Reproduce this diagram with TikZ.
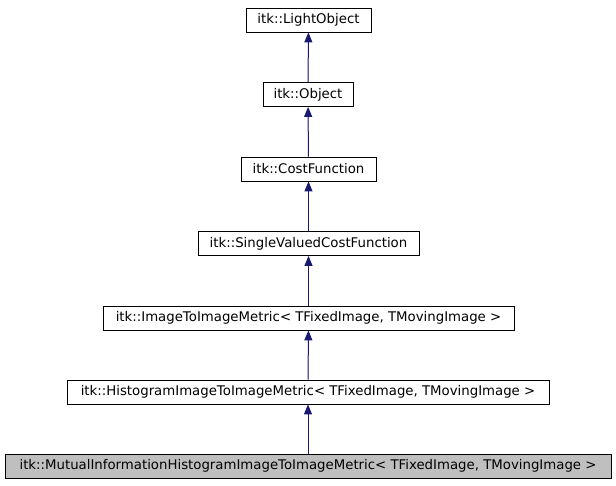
\documentclass[tikz,border=0pt]{standalone}
\usepackage{fontspec}
\setmainfont{DejaVu Sans}
\usetikzlibrary{arrows.meta}
\definecolor{edgeblue}{HTML}{191970}
\begin{document}
\begin{tikzpicture}[x=1pt,y=-1pt,>={Triangle[length=10pt,width=8pt]},
 cls/.style={draw,line width=0.8pt,minimum height=24pt,inner sep=0pt,font=\fontsize{13.3}{15}\selectfont},
 cur/.style={cls,fill=black!25},
 inh/.style={->,draw=edgeblue,fill=edgeblue,line width=1pt}]
\useasboundingbox (0,0) rectangle (616,485);
\node[cls,minimum width=125pt] (lo) at (308.5,20) {itk::LightObject};
\node[cls,minimum width=90pt] (ob) at (308,94.5) {itk::Object};
\node[cls,minimum width=135pt] (cf) at (308.5,169) {itk::CostFunction};
\node[cls,minimum width=221pt] (sv) at (308.5,243.5) {itk::SingleValuedCostFunction};
\node[cls,minimum width=411pt] (im) at (308.5,318) {itk::ImageToImageMetric< TFixedImage, TMovingImage >};
\node[cls,minimum width=482pt] (hm) at (308,392) {itk::HistogramImageToImageMetric< TFixedImage, TMovingImage >};
\node[cur,minimum width=606pt] (mi) at (308,466) {itk::MutualInformationHistogramImageToImageMetric< TFixedImage, TMovingImage >};
\draw[inh] (ob) -- (lo);
\draw[inh] (cf) -- (ob);
\draw[inh] (sv) -- (cf);
\draw[inh] (im) -- (sv);
\draw[inh] (hm) -- (im);
\draw[inh] (mi) -- (hm);
\end{tikzpicture}
\end{document}
